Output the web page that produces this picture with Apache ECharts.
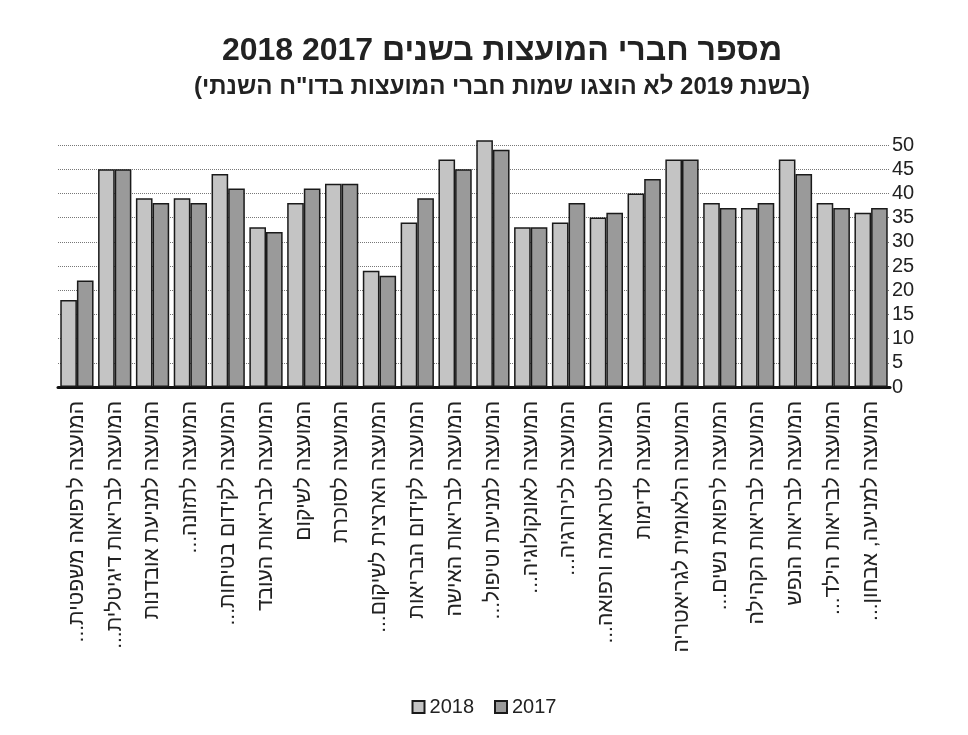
<!DOCTYPE html>
<html>
<head>
<meta charset="utf-8">
<script src="https://cdn.jsdelivr.net/npm/echarts@6/dist/echarts.min.js"></script>
<style>
html,body{margin:0;padding:0;background:#fff;}
#chart{width:968px;height:735px;}
</style>
</head>
<body>
<div id="chart"></div>
<script>
var RLM = '\u200F';
var categories = [
  'המועצה לרפואה משפטית...' + RLM,
  'המועצה לבריאות דיגיטלית...' + RLM,
  'המועצה למניעת אובדנות',
  'המועצה לתזונה...' + RLM,
  'המועצה לקידום בטיחות...' + RLM,
  'המועצה לבריאות העובד',
  'המועצה לשיקום',
  'המועצה לסוכרת',
  'המועצה הארצית לשיקום...' + RLM,
  'המועצה לקידום הבריאות',
  'המועצה לבריאות האישה',
  'המועצה למניעת וטיפול...' + RLM,
  'המועצה לאונקולוגיה...' + RLM,
  'המועצה לכירורגיה...' + RLM,
  'המועצה לטראומה ורפואה...' + RLM,
  'המועצה לדימות',
  'המועצה הלאומית לגריאטריה',
  'המועצה לרפואת נשים...' + RLM,
  'המועצה לבריאות הקהילה',
  'המועצה לבריאות הנפש',
  'המועצה לבריאות הילד...' + RLM,
  'המועצה למניעה, אבחון...' + RLM
];
var values2018 = [18, 45, 39, 39, 44, 33, 38, 42, 24, 34, 47, 51, 33, 34, 35, 40, 47, 38, 37, 47, 38, 36];
var values2017 = [22, 45, 38, 38, 41, 32, 41, 42, 23, 39, 45, 49, 33, 38, 36, 43, 47, 37, 38, 44, 37, 37];
var seriesNames = ['2018', '2017'];
var titleText = 'מספר חברי המועצות בשנים 2017 2018';
var subtitleText = '(בשנת 2019 לא הוצגו שמות חברי המועצות בדו"ח השנתי)';

var FONT = '"Liberation Sans", Arial, "DejaVu Sans", sans-serif';
var chart = echarts.init(document.getElementById('chart'), null, {renderer: 'canvas'});
chart.setOption({
  backgroundColor: '#ffffff',
  animation: false,
  textStyle: {fontFamily: FONT},
  title: [
    {text: titleText, left: 497, top: 30, textAlign: 'center',
     textStyle: {fontSize: 32, fontWeight: 'bold', color: '#222', fontFamily: FONT}},
    {text: subtitleText, left: 497, top: 70, textAlign: 'center',
     textStyle: {fontSize: 24, fontWeight: 'bold', color: '#222', fontFamily: FONT}}
  ],
  legend: {
    data: seriesNames,
    left: 'center',
    top: 692,
    icon: 'rect',
    itemWidth: 12,
    itemHeight: 12,
    itemGap: 20,
    textStyle: {fontSize: 20, color: '#222', fontFamily: FONT}
  },
  grid: {left: 58, right: 78, top: 145, bottom: 348, containLabel: false},
  xAxis: {
    type: 'category',
    data: categories,
    axisTick: {show: false},
    axisLine: {lineStyle: {color: '#111', width: 3}},
    axisLabel: {
      rotate: 90, interval: 0, margin: 14,
      fontSize: 21, color: '#222', fontFamily: FONT
    }
  },
  yAxis: {
    type: 'value',
    position: 'right',
    min: 0, max: 50, interval: 5,
    axisLine: {show: false},
    axisTick: {show: false},
    axisLabel: {fontSize: 20, color: '#222', margin: 2, fontFamily: FONT},
    splitLine: {lineStyle: {type: 'dotted', color: '#777', width: 1}}
  },
  series: [
    {name: seriesNames[0], type: 'bar', data: values2018, clip: false,
     barGap: '0%', barCategoryGap: '12%',
     itemStyle: {color: '#c4c4c4', borderColor: '#1a1a1a', borderWidth: 1.5}},
    {name: seriesNames[1], type: 'bar', data: values2017, clip: false,
     barGap: '0%', barCategoryGap: '12%',
     itemStyle: {color: '#9a9a9a', borderColor: '#1a1a1a', borderWidth: 1.5}}
  ]
});
</script>
</body>
</html>
